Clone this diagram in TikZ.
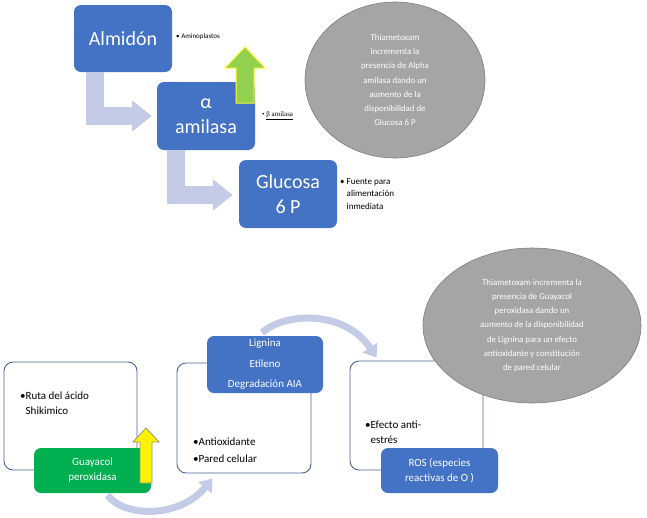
\documentclass[tikz,border=0pt]{standalone}
\usepackage{fontspec}
\setmainfont{Carlito}
\newfontfamily\notefont{Liberation Serif}
\usetikzlibrary{arrows.meta,calc,shapes.geometric}

\definecolor{boxblue}{RGB}{68,114,196}
\definecolor{lineblue}{RGB}{72,100,148}
\definecolor{lavender}{RGB}{196,203,230}
\definecolor{bubblegray}{RGB}{165,165,165}
\definecolor{bubbleedge}{RGB}{125,125,125}
\definecolor{boxgreen}{RGB}{0,176,80}
\definecolor{arrowgreen}{RGB}{146,208,80}
\definecolor{arrowedge}{RGB}{150,150,110}

\tikzset{
  bluebox/.style={fill=boxblue, text=white, rounded corners=7pt, align=center, inner sep=0pt},
  greenbox/.style={bluebox, fill=boxgreen},
  whitebox/.style={draw=lineblue, line width=0.9pt, fill=white, rounded corners=9pt},
  bubble/.style={ellipse, fill=bubblegray, draw=bubbleedge, line width=0.6pt, text=white,
    align=center, inner sep=0pt, font=\fontsize{8.8}{14.2}\selectfont},
  note/.style={align=left, anchor=west, inner sep=0pt},
  bentarrow/.style={lavender, line width=18pt, line join=miter, -{Triangle[width=30pt,length=20pt]}},
  arcarrow/.style={lavender, line width=7pt, -{Triangle[width=17pt,length=12pt]}},
}

\begin{document}
\begin{tikzpicture}[x=1pt,y=-1pt]
  \useasboundingbox (0,0) rectangle (647,517);

  \node[bluebox, minimum width=98pt, minimum height=67pt, font=\fontsize{20}{24}\selectfont]
    (almidon) at (123,38.5) {Almidón};
  \node[bluebox, minimum width=98pt, minimum height=68pt, font=\fontsize{20}{25}\selectfont]
    (amilasa) at (206,116) {α\\amilasa};
  \node[bluebox, minimum width=98pt, minimum height=68pt, font=\fontsize{20}{25}\selectfont]
    (glucosa) at (288,194) {Glucosa\\6 P};

  \draw[bentarrow, shorten >=5pt] ($(almidon.south west)+(21.5,0)$) |- (amilasa.west);
  \draw[bentarrow, shorten >=6pt] ($(amilasa.south west)+(19,0)$) |- ($(glucosa.west)+(0,1)$);

  \filldraw[fill=arrowgreen, draw=yellow!80!white, line width=1pt]
    (236,103) -- (236,68) -- (225,68) -- (245,47) -- (265,68) -- (254,68) -- (254,103) -- cycle;

  \node[note, font=\fontsize{7}{8}\selectfont] (aminoplastos) at (176,37) {• Aminoplastos};
  \node[note, font=\notefont\fontsize{7}{8}\selectfont] (beta) at (262,116) {• \underline{β amilasa}};
  \node[note, font=\fontsize{9}{12.5}\selectfont] (fuente) at (340,194)
    {• Fuente para\\\phantom{• }alimentación\\\phantom{• }inmediata};

  \node[bubble, minimum width=180pt, minimum height=156pt] (bubbletop) at (395,80)
    {Thiametoxam\\incrementa la\\presencia de Alpha\\amilasa dando un\\aumento de la\\disponibilidad de\\Glucosa 6 P};

  \node[whitebox, minimum width=133pt, minimum height=108pt] (ruta) at (70.5,416) {};
  \node[whitebox, minimum width=134pt, minimum height=110pt] (antiox) at (244,418) {};
  \node[whitebox, minimum width=133pt, minimum height=109pt] (efecto) at (416.5,415.5) {};

  \node[note, font=\fontsize{11}{15}\selectfont] (rutatext) at (20,403)
    {•Ruta del ácido\\\phantom{•}Shikimico};
  \node[note, font=\fontsize{11}{17}\selectfont] (antioxtext) at (193,450)
    {•Antioxidante\\•Pared celular};
  \node[note, font=\fontsize{11}{15}\selectfont] (efectotext) at (365,432)
    {•Efecto anti-\\\phantom{•}estrés};

  \node[greenbox, minimum width=117pt, minimum height=45pt, font=\fontsize{11}{15}\selectfont]
    (guayacol) at (92.5,470.5) {Guayacol\\peroxidasa};
  \node[bluebox, minimum width=116pt, minimum height=57pt, font=\fontsize{11}{20.5}\selectfont]
    (lignina) at (265,364.5) {Lignina\\Etileno\\Degradación AIA};
  \node[bluebox, minimum width=117pt, minimum height=45pt, font=\fontsize{11}{15}\selectfont]
    (ros) at (439.5,470.5) {ROS (especies\\reactivas de O )};

  \draw[arcarrow] ($(guayacol.south)+(15,2)$) .. controls (125,518) and (180,518) .. ($(antiox.south west)+(36,5)$);
  \draw[arcarrow] ($(lignina.north)+(-3,-3)$) .. controls (285,312) and (345,310) .. ($(efecto.north west)+(27,-3)$);

  \filldraw[fill=yellow, draw=arrowedge, line width=0.8pt]
    (140,483) -- (140,442) -- (133,442) -- (146,428) -- (159,442) -- (152,442) -- (152,483) -- cycle;

  \node[bubble, minimum width=218pt, minimum height=155pt] (bubblebottom) at (532,325.5)
    {Thiametoxam incrementa la\\presencia de Guayacol\\peroxidasa dando un\\aumento de la disponibilidad\\de Lignina para un efecto\\antioxidante y constitución\\de pared celular};
\end{tikzpicture}
\end{document}
